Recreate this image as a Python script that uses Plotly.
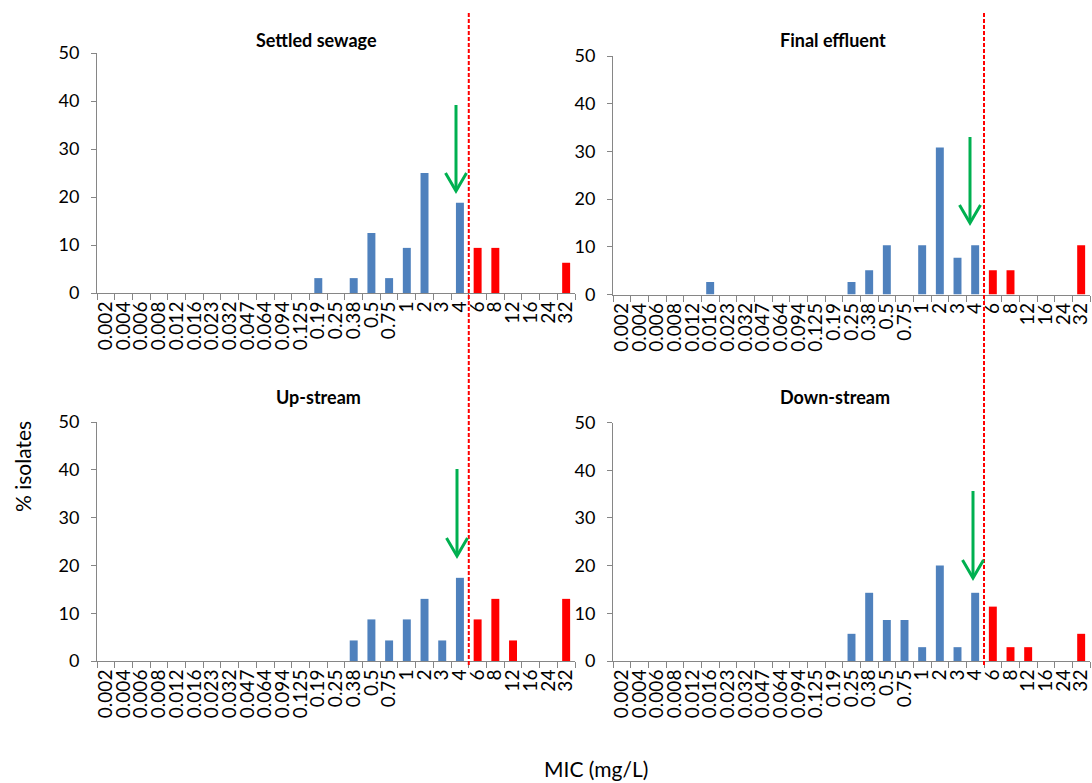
import plotly.graph_objects as go

# ---------------- data ----------------
categories = ["0.002", "0.004", "0.006", "0.008", "0.012", "0.016", "0.023", "0.032",
              "0.047", "0.064", "0.094", "0.125", "0.19", "0.25", "0.38", "0.5", "0.75",
              "1", "2", "3", "4", "6", "8", "12", "16", "24", "32"]

settled_sewage = [0, 0, 0, 0, 0, 0, 0, 0, 0, 0, 0, 0, 3.1, 0, 3.1, 12.5, 3.1,
                  9.4, 25.0, 0, 18.8, 9.4, 9.4, 0, 0, 0, 6.3]
final_effluent = [0, 0, 0, 0, 0, 2.6, 0, 0, 0, 0, 0, 0, 0, 2.6, 5.1, 10.3, 0,
                  10.3, 30.8, 7.7, 10.3, 5.1, 5.1, 0, 0, 0, 10.3]
up_stream = [0, 0, 0, 0, 0, 0, 0, 0, 0, 0, 0, 0, 0, 0, 4.3, 8.7, 4.3,
             8.7, 13.0, 4.3, 17.4, 8.7, 13.0, 4.3, 0, 0, 13.0]
down_stream = [0, 0, 0, 0, 0, 0, 0, 0, 0, 0, 0, 0, 0, 5.7, 14.3, 8.6, 8.6,
               2.9, 20.0, 2.9, 14.3, 11.4, 2.9, 2.9, 0, 0, 5.7]

panel_titles = ["Settled sewage", "Final effluent", "Up-stream", "Down-stream"]
breakpoint_cat = "4"   # last susceptible category (bars after it are red)

# ---------------- styling ----------------
W, H = 1092, 783
FONT = "Lato"
BLUE = "#4F81BD"
RED = "#FF0000"
GREEN = "#00B050"
AXIS_GRAY = "#868686"


def px(x):
    return x / W


def py(y):
    return 1 - y / H


bp_index = categories.index(breakpoint_cat)
colors = [BLUE if i <= bp_index else RED for i in range(len(categories))]

series = [settled_sewage, final_effluent, up_stream, down_stream]
# x domains (left / right column), y domains per panel
xdoms = [[px(97), px(575)], [px(613), px(1090)], [px(97), px(575)], [px(613), px(1090)]]
ydoms = [[py(293), py(53)], [py(294.5), py(56)], [py(661), py(422)], [py(661), py(422.5)]]

fig = go.Figure()
for k, vals in enumerate(series):
    sfx = "" if k == 0 else str(k + 1)
    fig.add_trace(go.Bar(
        x=categories, y=[v if v > 0 else None for v in vals],
        marker=dict(color=colors, line=dict(width=0)),
        xaxis="x" + sfx, yaxis="y" + sfx, showlegend=False,
    ))
    fig.layout["xaxis" + sfx] = dict(
        domain=xdoms[k], anchor="y" + sfx, type="category",
        categoryorder="array", categoryarray=categories,
        range=[-0.5, len(categories) - 0.5],
        tickmode="array", tickvals=categories, ticktext=categories,
        tickson="boundaries", ticks="outside", ticklen=6, tickcolor=AXIS_GRAY,
        tickangle=-90, showline=True, linecolor=AXIS_GRAY, linewidth=1,
        showgrid=False, zeroline=False, automargin=False,
        tickfont=dict(family=FONT, size=19, color="#000000"),
    )
    fig.layout["yaxis" + sfx] = dict(
        domain=ydoms[k], anchor="x" + sfx, range=[0, 50], dtick=10,
        ticks="outside", ticklen=5, tickcolor=AXIS_GRAY, ticklabelstandoff=8,
        showline=True, linecolor=AXIS_GRAY, linewidth=1,
        showgrid=False, zeroline=False, automargin=False,
        tickfont=dict(family=FONT, size=18, color="#000000"),
    )

fig.update_layout(bargap=0.55)

# panel titles
title_pos = [(316, 40), (833, 40), (318, 397), (835, 397)]
annotations = []
for t, (tx, ty) in zip(panel_titles, title_pos):
    annotations.append(dict(text="<b>" + t + "</b>", x=px(tx), y=py(ty), xref="paper", yref="paper",
                            xanchor="center", yanchor="middle", showarrow=False,
                            font=dict(family=FONT, size=18, color="#000000")))
annotations.append(dict(text="% isolates", x=px(22), y=py(467), xref="paper", yref="paper",
                        xanchor="center", yanchor="middle", showarrow=False, textangle=-90,
                        font=dict(family=FONT, size=21, color="#000000")))
annotations.append(dict(text="MIC (mg/L)", x=px(596), y=py(768), xref="paper", yref="paper",
                        xanchor="center", yanchor="middle", showarrow=False,
                        font=dict(family=FONT, size=21, color="#000000")))
fig.update_layout(annotations=annotations)

# breakpoint dashed lines
shapes = []
for xr in ["x", "x2"]:
    shapes.append(dict(type="line", xref=xr, yref="paper", x0=bp_index + 0.5, x1=bp_index + 0.5,
                       y0=py(665), y1=py(12), line=dict(color=RED, width=2, dash="4px,2px")))

# green arrows (shaft x, top y, tip y, head half-width, head height) in pixels
arrows = [(456, 105, 191, 10.5, 18), (970, 137, 223, 10.5, 18),
          (457, 469, 556, 10.5, 18), (973, 491, 578, 10.5, 18)]
for ax_, top, tip, hw, hh in arrows:
    shapes.append(dict(type="line", xref="paper", yref="paper", x0=px(ax_), x1=px(ax_),
                       y0=py(top), y1=py(tip - 2), line=dict(color=GREEN, width=3)))
    path = "M {:.5f},{:.5f} L {:.5f},{:.5f} L {:.5f},{:.5f}".format(
        px(ax_ - hw), py(tip - hh), px(ax_), py(tip), px(ax_ + hw), py(tip - hh))
    shapes.append(dict(type="path", xref="paper", yref="paper", path=path,
                       line=dict(color=GREEN, width=3)))
fig.update_layout(shapes=shapes)

fig.update_layout(
    width=W, height=H, margin=dict(l=0, r=0, t=0, b=0, autoexpand=False),
    paper_bgcolor="white", plot_bgcolor="white",
    font=dict(family=FONT),
)

fig.write_html("out.html")
